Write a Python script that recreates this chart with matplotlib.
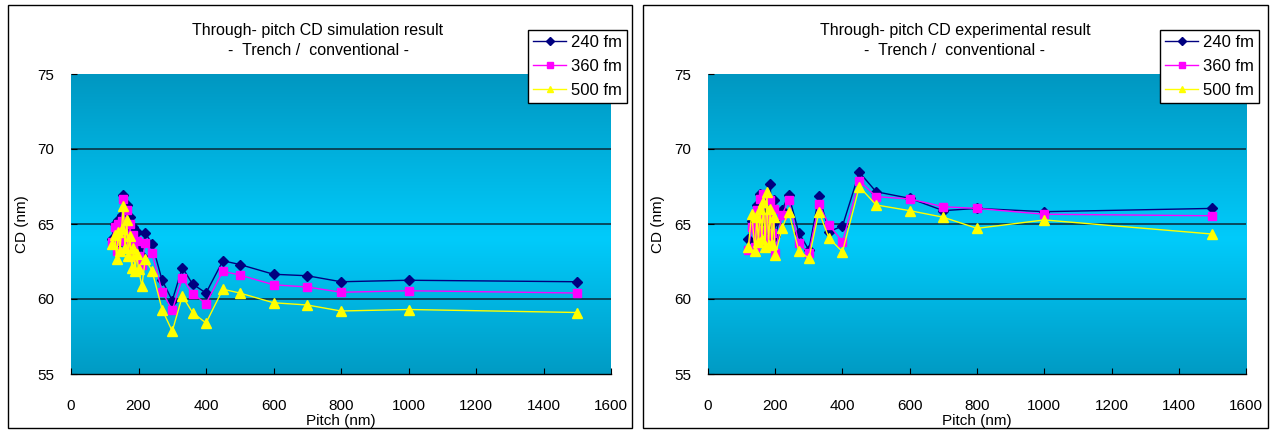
import numpy as np
import matplotlib.pyplot as plt
from matplotlib.colors import LinearSegmentedColormap
from matplotlib.patches import Rectangle

plt.rcParams['font.family'] = ['Liberation Sans', 'DejaVu Sans']

# ---- data ----
sim_pitch = [120, 130, 135, 140, 145, 150, 155, 160, 165, 170, 175, 180, 185, 190, 195,
             200, 210, 220, 240, 270, 300, 330, 360, 400, 450, 500, 600, 700, 800, 1000, 1500]
sim_240 = [64.0, 65.0, 63.6, 65.3, 64.2, 65.6, 66.9, 64.6, 66.3, 64.1, 65.5, 63.7, 64.8, 63.3, 64.5,
           63.5, 62.9, 64.4, 63.7, 61.25, 59.9, 62.1, 61.0, 60.4, 62.55, 62.3, 61.65, 61.55, 61.15, 61.25, 61.15]
sim_360 = [63.8, 64.8, 63.2, 65.0, 63.9, 65.2, 66.7, 64.2, 65.9, 63.7, 65.0, 63.1, 64.3, 62.8, 63.9,
           62.9, 62.3, 63.75, 63.05, 60.5, 59.25, 61.4, 60.35, 59.7, 61.85, 61.6, 60.95, 60.8, 60.45, 60.55, 60.4]
sim_500 = [63.7, 64.3, 62.7, 64.5, 63.2, 64.7, 66.2, 63.4, 65.3, 62.9, 64.2, 62.1, 63.4, 61.9, 63.0,
           62.0, 60.85, 62.65, 61.9, 59.3, 57.85, 60.2, 59.1, 58.4, 60.65, 60.4, 59.75, 59.6, 59.2, 59.3, 59.1]

exp_pitch = [120, 130, 140, 145, 150, 155, 160, 165, 170, 175, 180, 185, 190, 195, 200,
             220, 240, 270, 300, 330, 360, 400, 450, 500, 600, 700, 800, 1000, 1500]
exp_240 = [64.0, 65.2, 63.8, 66.3, 64.6, 67.0, 65.0, 66.6, 64.3, 65.8, 64.4, 67.7, 65.0, 66.6, 64.2,
           65.93, 66.93, 64.42, 63.27, 66.87, 64.49, 64.87, 68.45, 67.15, 66.71, 65.89, 66.04, 65.82, 66.04]
exp_360 = [63.3, 64.8, 63.5, 65.9, 64.2, 66.7, 64.6, 67.0, 63.9, 65.4, 64.0, 66.6, 64.4, 66.0, 63.1,
           65.6, 66.6, 63.71, 63.04, 66.33, 64.93, 63.82, 67.89, 66.82, 66.67, 66.15, 66.04, 65.65, 65.55]
exp_500 = [63.5, 65.7, 63.2, 65.5, 63.8, 66.0, 64.0, 66.5, 63.5, 67.15, 63.6, 66.0, 63.7, 65.5, 62.93,
           64.71, 65.82, 63.22, 62.71, 65.82, 64.05, 63.15, 67.49, 66.27, 65.89, 65.45, 64.71, 65.27, 64.33]

labels = ["240 fm", "360 fm", "500 fm"]
titles = ["Through- pitch CD simulation result\n-  Trench /  conventional -",
          "Through- pitch CD experimental result\n-  Trench /  conventional -"]

W, H = 1273, 432
fig = plt.figure(figsize=(W / 100, H / 100), dpi=100)

# chart frames
for x0, x1 in [(8, 632), (643, 1268)]:
    fig.patches.append(Rectangle((x0 / W, 1 - 428 / H), (x1 - x0) / W, 423 / H,
                                 transform=fig.transFigure, fill=False,
                                 edgecolor='black', linewidth=1.0))

cmap = LinearSegmentedColormap.from_list(
    "bg", [(0.0, "#0097c1"), (0.55, "#00cbfb"), (1.0, "#009bc4")])
grad = np.linspace(0, 1, 256).reshape(-1, 1)

styles = [dict(color="#000080", marker="D", ms=5),
          dict(color="#ff00ff", marker="s", ms=5.5),
          dict(color="#ffff00", marker="^", ms=6.5)]

panels = [
    (71, 611, sim_pitch, [sim_240, sim_360, sim_500], 318, (528, 30), 22),
    (708, 1246, exp_pitch, [exp_240, exp_360, exp_500], 955, (1160, 30), 658),
]

for i, (xl, xr, px, series, tx, legpos, ylx) in enumerate(panels):
    ax = fig.add_axes([xl / W, 1 - 374 / H, (xr - xl) / W, 300 / H])
    ax.imshow(grad, cmap=cmap, aspect='auto', extent=[0, 1, 0, 1],
              transform=ax.transAxes, origin='upper', zorder=0)
    ax.set_xlim(0, 1600)
    ax.set_ylim(55, 75)
    ax.set_xticks(range(0, 1601, 200))
    ax.set_yticks([55, 60, 65, 70, 75])
    ax.tick_params(direction='in', length=4, labelsize=11)
    ax.tick_params(axis='x', pad=18)
    ax.tick_params(axis='y', pad=12)
    for yv in [60, 65, 70]:
        ax.axhline(yv, color="#0a3344", linewidth=1.2, zorder=1)
    for sp in ['top', 'right']:
        ax.spines[sp].set_visible(False)
    ax.spines['left'].set_visible(False)
    ax.spines['bottom'].set_linewidth(1.0)

    for vals, st, lab in zip(series, styles, labels):
        ax.plot(px, vals, color=st['color'], marker=st['marker'], markersize=st['ms'],
                markerfacecolor=st['color'], markeredgecolor=st['color'],
                linewidth=1.0, label=lab, zorder=3)

    ax.set_xlabel("Pitch (nm)", fontsize=11)
    ax.set_ylabel("CD (nm)", fontsize=11)
    ax.xaxis.set_label_coords(0.5, -(421 - 374) / 300, transform=ax.transAxes)
    ax.yaxis.set_label_coords((ylx - xl) / (xr - xl), 0.5, transform=ax.transAxes)
    ax.xaxis.label.set_va('center')
    ax.yaxis.label.set_va('center')
    fig.text(tx / W, 1 - 23 / H, titles[i], ha='center', va='top',
             fontsize=11.5, linespacing=1.45)

    leg = ax.legend(loc='upper left', bbox_to_anchor=(legpos[0] / W, 1 - legpos[1] / H),
                    bbox_transform=fig.transFigure, fontsize=12, frameon=True,
                    fancybox=False, framealpha=1, edgecolor='black',
                    handlelength=2.0, handletextpad=0.3, borderpad=0.3,
                    labelspacing=0.55, borderaxespad=0, markerscale=0.75)
    leg.get_frame().set_linewidth(1.0)
    leg.set_zorder(10)

fig.savefig("out.png", dpi=100, facecolor='white')
